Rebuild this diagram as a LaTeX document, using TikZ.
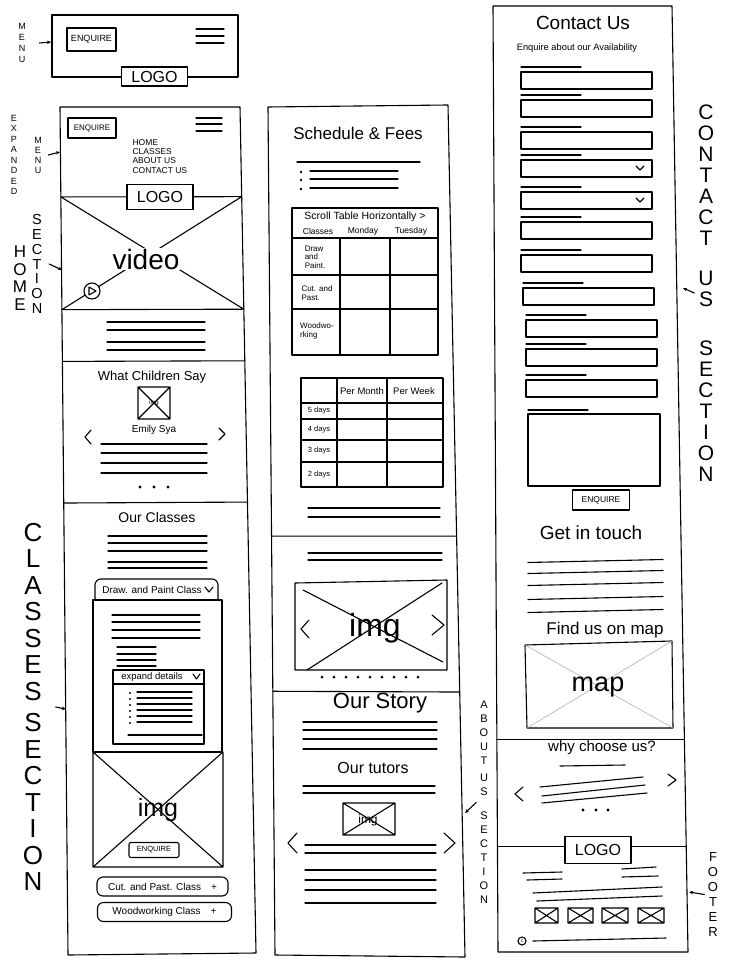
\documentclass[tikz,border=0pt]{standalone}
\usepackage{fontspec}
\setmainfont{Liberation Sans}
\usetikzlibrary{calc,arrows.meta}
\begin{document}
\begin{tikzpicture}[x=1pt,y=-1pt,line width=1.1pt,line cap=round,line join=round,
    >={Stealth[length=4pt,width=3.5pt]},
    hand/.style={font=\fontsize{#1}{#1}\selectfont,inner sep=1pt},
    vlbl/.style 2 args={align=center,inner sep=0pt,font=\fontsize{#1}{#2}\selectfont},
    btn/.style={draw,fill=white,inner sep=0pt,font=\fontsize{#1}{#1}\selectfont},
    logo/.style={draw,fill=white,minimum width=66pt,minimum height=#1,inner sep=0pt,font=\fontsize{16}{16}\selectfont},
    pill/.style={draw,rounded corners=6pt,minimum width=131pt,minimum height=19pt,inner sep=0pt,font=\fontsize{10}{10}\selectfont}]
    \useasboundingbox (0,0) rectangle (730,971);

    % menu
    \node[vlbl={9}{11}] (lblmenu) at (22,43) {M\\E\\N\\U};
    \coordinate (menuin) at (51,42);
    \draw[->] ([xshift=13pt]lblmenu.east) -- (menuin);
    \draw (52,15) rectangle (238,77);
    \node[btn=9,minimum width=49pt,minimum height=23pt] (menuenq) at (91.5,39.5) {ENQUIRE};
    \foreach \y in {29,36,43}
      \draw (196,\y) -- (224,\y);
    \node[logo=19pt] (menulogo) at (154.5,76.5) {LOGO};

    % column 1
    \coordinate (c1tl) at (60,107);
    \coordinate (c1tr) at (240,107);
    \coordinate (c1br) at (256,953);
    \coordinate (c1bl) at (68,955);
    \draw (c1tl) -- (c1tr) -- (c1br) -- (c1bl) -- cycle;
    \node[btn=8,minimum width=48pt,minimum height=20pt] (xmenuenq) at (92,128) {ENQUIRE};
    \foreach \y in {118,124,131}
      \draw (196,\y) -- (222,\y);
    \node[align=left,anchor=north west,inner sep=1pt,font=\fontsize{8.5}{9.2}\selectfont] (navlist) at (131,138) {HOME\\CLASSES\\ABOUT US\\CONTACT US};
    \coordinate (v1) at ($(c1tl)!0.106!(c1bl)$);
    \coordinate (v2) at ($(c1tr)!0.106!(c1br)$);
    \coordinate (v3) at ($(c1tr)!0.239!(c1br)$);
    \coordinate (v4) at ($(c1tl)!0.239!(c1bl)$);
    \draw (v1) -- (v2) (v4) -- (v3) (v1) -- (v3) (v2) -- (v4);
    \node[logo=25pt] (homelogo) at (160,197) {LOGO};
    \node[hand=28,fill=white] (video) at (146,259) {video};
    \node[draw,circle,fill=white,minimum size=16pt,inner sep=0pt] (play) at (92,291) {};
    \draw ($(play.center)+(-3,-4)$) -- ++(7,4) -- ++(-7,4) -- cycle;
    \foreach \y in {322,330,342,350}
      \draw (107,\y) -- (205,\y);
    \draw ($(c1tl)!0.3!(c1bl)$) -- ($(c1tr)!0.3!(c1br)$);
    \node[hand=13] (kidsttl) at (152,377) {What Children Say};
    \draw (138,387) rectangle (170,419) (138,387) -- (170,419) (170,387) -- (138,419);
    \node[hand=6] (kidsimg) at (154,403) {img};
    \node[hand=10] (kidname) at (154,430) {Emily Sya};
    \draw (91,430) -- (85,437) -- (91,444);
    \draw (219,428) -- (225,434) -- (219,440);
    \foreach \y in {444,453,463,473}
      \draw (101,\y) -- (207,\y);
    \foreach \x in {140,154,168}
      \fill (\x,487) circle (1.6pt);
    \draw ($(c1tl)!0.467!(c1bl)$) -- ($(c1tr)!0.467!(c1br)$);
    \node[hand=14] (classttl) at (157,517) {Our Classes};
    \foreach \y in {536,543,551,562,568}
      \draw (108,\y) -- (207,\y);
    \draw[rounded corners=6pt] (95,600) -- (95,579) -- (218,579) -- (218,600);
    \node[hand=10] (drawhdr) at (152,590) {Draw. and Paint Class};
    \draw (205,587) -- (209,592) -- (213,587);
    \draw (93,600) rectangle (222,752);
    \foreach \y in {615,622,630,638}
      \draw (112,\y) -- (200,\y);
    \foreach \y in {647,654,660,666}
      \draw (117,\y) -- (156,\y);
    \draw (113,670) rectangle (204,744) (113,684) -- (204,684);
    \node[hand=9.5] (expandhdr) at (152,677) {expand details};
    \draw (193,674) -- (196.5,679) -- (200,674);
    \foreach \y in {693,699,705,711,717,723}
      \fill (130,\y) circle (1.1pt);
    \foreach \y in {692,698,704,710,716,722}
      \draw (137,\y) -- (192,\y);
    \draw (128,735) -- (202,735);
    \draw (93,752) rectangle (223,867) (93,752) -- (223,867) (223,752) -- (93,867);
    \node[hand=25] (classimg) at (158,810) {img};
    \node[btn=7.5,minimum width=50pt,minimum height=15pt,rounded corners=2pt] (classenq) at (154,850) {ENQUIRE};
    \node[pill] (cutpill) at (162.5,886.5) {Cut. and Past. Class\quad+};
    \node[pill,minimum width=134pt] (woodpill) at (164.5,912) {Woodworking Class\quad+};

    % column 1 labels
    \node[vlbl={9}{10.5}] (lblexp) at (14,155) {E\\X\\P\\A\\N\\D\\E\\D};
    \node[vlbl={9}{10}] (lblxmenu) at (38,155) {M\\E\\N\\U};
    \coordinate (xmenuin) at (60,152);
    \draw[->] ([xshift=6pt]lblxmenu.east) -- (xmenuin);
    \node[vlbl={17}{17.5}] (lblhome) at (20,278) {H\\O\\M\\E};
    \node[vlbl={14.5}{14.7}] (lblhomesec) at (37,264) {S\\E\\C\\T\\I\\O\\N};
    \coordinate (homein) at (62,270);
    \draw[->] ([xshift=6pt]lblhomesec.east) -- (homein);
    \node[vlbl={26}{26.5}] (lblclass) at (33,707) {C\\L\\A\\S\\S\\E\\S\\[5pt]S\\E\\C\\T\\I\\O\\N};
    \coordinate (classin) at (66,709);
    \draw[->] ([xshift=12pt]lblclass.east) -- (classin);

    % column 2
    \coordinate (c2tl) at (268,107);
    \coordinate (c2tr) at (448,105);
    \coordinate (c2br) at (465,957);
    \coordinate (c2bl) at (275,955);
    \draw (c2tl) -- (c2tr) -- (c2br) -- (c2bl) -- cycle;
    \node[hand=17] (schedttl) at (358,133) {Schedule \& Fees};
    \draw (297,162) -- (420,162);
    \foreach \y in {172,180,189} {
      \fill (301,\y) circle (1.3pt);
      \draw (310,\y-1) -- (398,\y-1);
    }
    \draw (292,208) rectangle (438,355);
    \draw (292,238) -- (438,238) (340,238) -- (340,355) (390,238) -- (390,355)
          (292,275) -- (438,275) (292,309) -- (438,309);
    \node[hand=10.5] (scrollhdr) at (365,217) {Scroll Table Horizontally >};
    \node[hand=8.5] (colclass) at (318,231) {Classes};
    \node[hand=8.5] (colmon) at (363,231) {Monday};
    \node[hand=8.5] (coltue) at (411,231) {Tuesday};
    \node[align=left,inner sep=1pt,font=\fontsize{8}{8.5}\selectfont] (rowdraw) at (315,257) {Draw\\and\\Paint.};
    \node[align=left,inner sep=1pt,font=\fontsize{8}{9.5}\selectfont] (rowcut) at (317,293) {Cut. and\\Past.};
    \node[align=left,inner sep=1pt,font=\fontsize{8}{9.5}\selectfont] (rowwood) at (317,331) {Woodwo-\\rking};
    \draw (301,378) rectangle (443,487);
    \draw (337,378) -- (337,487) (387,378) -- (387,487) (301,403) -- (443,403)
          (301,419) -- (443,419) (301,440) -- (443,440) (301,462) -- (443,462);
    \node[hand=9.5] (permonth) at (362,391) {Per Month};
    \node[hand=9.5] (perweek) at (414,391) {Per Week};
    \foreach \y/\d in {411/5,430/4,451/3,475/2}
      \node[hand=7.5] (days\d) at (319,\y) {\d\ days};
    \foreach \y in {508,517}
      \draw (308,\y) -- (440,\y);
    \draw ($(c2tl)!0.506!(c2bl)$) -- ($(c2tr)!0.506!(c2br)$);
    \foreach \y in {553,560}
      \draw (308,\y) -- (442,\y);
    \draw (295,583) -- (447,580) -- (447,670) -- (295,670) -- cycle;
    \draw (303,590) -- (443,662) (442,583) -- (307,670);
    \node[hand=32] (galleryimg) at (375,628) {img};
    \draw (309,620) -- (301,629) -- (309,638);
    \draw (432,615) -- (444,625) -- (432,635);
    \foreach \x in {322,334,...,418}
      \fill (\x,677) circle (1.5pt);
    \draw ($(c2tl)!0.689!(c2bl)$) -- ($(c2tr)!0.689!(c2br)$);
    \node[hand=22] (storyttl) at (380,703) {Our Story};
    \foreach \y in {722,730,739,749}
      \draw (303,\y) -- (437,\y);
    \node[hand=16] (tutorttl) at (373,768) {Our tutors};
    \foreach \y in {786,793}
      \draw (303,\y) -- (435,\y);
    \draw (343,803) rectangle (395,835) (343,803) -- (395,835) (395,803) -- (343,835);
    \node[hand=12] (tutorimg) at (368,820) {img};
    \draw (297,833) -- (288,843) -- (297,853);
    \draw (444,833) -- (455,843) -- (444,853);
    \foreach \y in {845,853,870,880,890,903}
      \draw (305,\y) -- (436,\y);

    \node[vlbl={11}{14}] (lblabout) at (484,802.5) {A\\B\\O\\U\\T\\[3pt]U\\S\\[10pt]S\\E\\C\\T\\I\\O\\N};
    \coordinate (aboutin) at (465,813);
    \draw[->] ([xshift=-3pt]lblabout.west) -- (aboutin);

    % column 3
    \coordinate (c3tl) at (493,6);
    \coordinate (c3tr) at (672,6);
    \coordinate (c3br) at (688,952);
    \coordinate (c3bl) at (498,952);
    \draw (c3tl) -- (c3tr) -- (c3br) -- (c3bl) -- cycle;
    \node[hand=19] (contactttl) at (583,23) {Contact Us};
    \node[hand=9.3] (enqttl) at (577,48) {Enquire about our Availability};
    \foreach \l/\t in {521/72,521/100,521/132,521/160,521/192,521/222,521/255,523/288,526/320,526/349,526/380} {
      \draw (\l,\t-5) -- ++(60,0);
      \draw (\l,\t) rectangle ++(131,17);
    }
    \foreach \t in {160,192}
      \draw (636,\t+6) -- (640,\t+10) -- (644,\t+6);
    \draw (528,410) -- (588,410);
    \draw (528,414) rectangle (660,486);
    \node[btn=8.5,minimum width=57pt,minimum height=20pt] (contactenq) at (601,500) {ENQUIRE};
    \node[hand=19] (touchttl) at (591,533) {Get in touch};
    \foreach \y in {561,572,584,598,611}
      \draw (528,\y+1.5) -- (663,\y-1.5);
    \node[hand=17] (mapttl) at (605,630) {Find us on map};
    \draw (525,645) -- (672,641) -- (673,728) -- (527,728) -- cycle;
    \draw[gray!60,line width=0.6pt] (525,645) -- (673,728) (672,641) -- (527,728);
    \node[hand=27] (mapimg) at (598,687) {map};
    \draw ($(c3tl)!0.775!(c3bl)$) -- ($(c3tr)!0.775!(c3br)$);
    \node[hand=15] (whyttl) at (602,748) {why choose us?};
    \draw (560,766) -- (625,765);
    \draw (540,787) -- (643,777) (542,796) -- (645,785) (542,803) -- (647,793);
    \draw (523,787) -- (515,794) -- (523,801);
    \draw (668,774) -- (676,780) -- (668,786);
    \foreach \x in {583,596,608}
      \fill (\x,810) circle (1.6pt);
    \draw ($(c3tl)!0.888!(c3bl)$) -- ($(c3tr)!0.888!(c3br)$);
    \node[logo=27pt] (footlogo) at (598,850) {LOGO};
    \draw (523,873) -- (562,872) (527,880) -- (562,879);
    \draw (622,869) -- (656,867) (622,877) -- (658,876);
    \draw (533,893) -- (662,887) (537,901) -- (662,896);
    \foreach \a/\b in {535/558,568/593,602/628,638/664}
      \draw (\a,908) rectangle (\b,923) (\a,908) -- (\b,923) (\b,908) -- (\a,923);
    \node[draw,circle,inner sep=0pt,minimum size=8pt,font=\fontsize{5}{5}\selectfont] (copyr) at (522,941) {c};
    \draw (533,941) -- (666,938);

    \node[vlbl={21}{21}] (lblcontact) at (706,293) {C\\O\\N\\T\\A\\C\\T\\[19pt]U\\S\\[28pt]S\\E\\C\\T\\I\\O\\N};
    \coordinate (contactin) at (683,288);
    \draw[->] ([xshift=-3pt]lblcontact.west) -- (contactin);
    \node[vlbl={13}{15}] (lblfooter) at (713,894.5) {F\\O\\O\\T\\E\\R};
    \coordinate (footin) at (689,892);
    \draw[->] ([xshift=-3pt]lblfooter.west) -- (footin);
\end{tikzpicture}
\end{document}
